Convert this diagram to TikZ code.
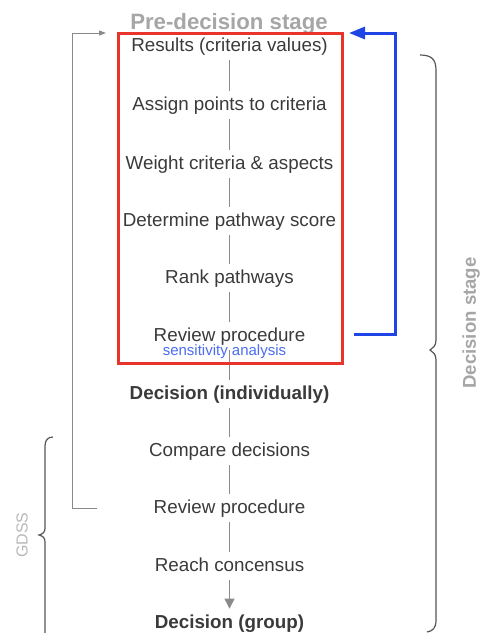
\documentclass[tikz,border=0pt]{standalone}
\usepackage{fontspec}
\setmainfont{Liberation Sans}
\usetikzlibrary{arrows.meta}

\definecolor{txtgray}{HTML}{3A3A3A}
\definecolor{stagegray}{HTML}{A6A6A6}
\definecolor{gdssgray}{HTML}{B8B8B8}
\definecolor{linegray}{HTML}{8A8A8A}
\definecolor{bracegray}{HTML}{555555}
\definecolor{boxred}{HTML}{E8352B}
\definecolor{loopblue}{HTML}{1F45E6}
\definecolor{sablue}{HTML}{4A6CF0}

\begin{document}
\begin{tikzpicture}[x=0.5pt,y=-0.5pt]
\tikzstyle{stage}=[text=txtgray, font=\fontsize{9.4}{11}\selectfont, inner sep=2.5pt, text height=7pt, text depth=2pt]
\tikzstyle{decision}=[stage, font=\fontsize{9.4}{11}\selectfont\bfseries]
\tikzstyle{link}=[draw=linegray, line width=0.5pt]
\tikzstyle{brace}=[draw=bracegray, line width=0.6pt]
\tikzstyle{label}=[text=stagegray, font=\fontsize{9.3}{11}\selectfont\bfseries]

\useasboundingbox (0,0) rectangle (480,633);

\node[stage] (1) at (229.5,46) {Results (criteria values)};
\node[stage] (2) at (229.5,105) {Assign points to criteria};
\node[stage] (3) at (229.5,164) {Weight criteria \& aspects};
\node[stage] (4) at (229.5,221) {Determine pathway score};
\node[stage] (5) at (229.5,278) {Rank pathways};
\node[stage] (6) at (229.5,336) {Review procedure};
\node[decision] (7) at (229.5,394) {Decision (individually)};
\node[stage] (8) at (229.5,451) {Compare decisions};
\node[stage] (9) at (229.5,508) {Review procedure};
\node[stage] (10) at (229.5,566) {Reach concensus};
\node[decision] (11) at (229.5,623) {Decision (group)};

\draw[link] (1)--(2)--(3)--(4)--(5)--(6)--(7)--(8)--(9)--(10);
\draw[link, -{Triangle[length=5pt,width=5pt]}] (10)--(11);

\node[text=sablue, font=\fontsize{7.5}{9}\selectfont] (sa) at (224.5,352) {sensitivity analysis};

% pre-decision block
\node[label, font=\fontsize{11.1}{13}\selectfont\bfseries] (pre) at (229,24) {Pre-decision stage};
\draw[boxred, line width=1.5pt] (118,33) rectangle (342,363);

% feedback loops
\coordinate (fb) at (354,334);
\coordinate (ft) at (349,33);
\draw[loopblue, line width=1.5pt, -{Triangle[length=8pt,width=6pt]}] (fb) -- ++(41,0) |- (ft);

\coordinate (lb) at (97,508);
\coordinate (lt) at (106,33);
\draw[link, -{Triangle[length=3.5pt,width=2.5pt]}] (lb) -- ++(-25,0) |- (lt);

% braces
\draw[brace] (420,55) .. controls (431,55) and (436,59) .. (436,70) -- (436,340)
  .. controls (436,346) and (433,348) .. (430,350)
  .. controls (433,352) and (436,354) .. (436,360) -- (436,620)
  .. controls (436,628) and (433,631) .. (427,632);
\node[label, rotate=90] (ds) at (471,323) {Decision stage};

\draw[brace] (53,437) .. controls (48,437) and (45,440) .. (45,446) -- (45,528)
  .. controls (45,532) and (43,534) .. (39,535)
  .. controls (43,536) and (45,538) .. (45,542) -- (45,633);
\node[rotate=90, text=gdssgray, font=\fontsize{8}{10}\selectfont] (gdss) at (22,535) {GDSS};

  \end{tikzpicture}
\end{document}
